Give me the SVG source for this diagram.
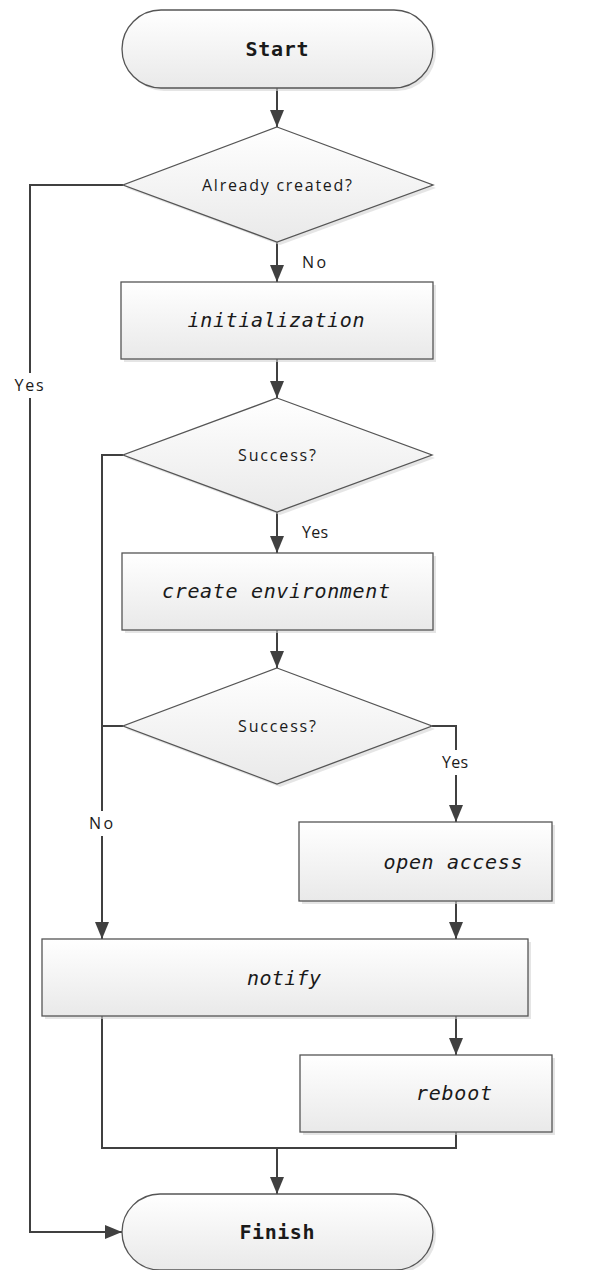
<svg xmlns="http://www.w3.org/2000/svg" width="599" height="1270" viewBox="0 0 599 1270">
<style>
.shape{stroke:#555;stroke-width:1.3;fill:url(#g)}
.shadow{fill:#d4d4d4;opacity:0.6}
.mono{font-family:"DejaVu Sans Mono","Liberation Mono",monospace;font-size:20px;fill:#1a1a1a;text-anchor:middle}
.it{font-style:italic}
.bold{font-weight:bold}
.lbl{font-family:"Open Sans","Noto Sans","Liberation Sans",sans-serif;font-size:16px;fill:#1a1a1a}
.c{text-anchor:middle}
.conn{stroke:#404040;stroke-width:2;fill:none}
.arr{marker-end:url(#ah)}
</style>
<defs>
<linearGradient id="g" x1="0" y1="0" x2="0" y2="1">
<stop offset="0" stop-color="#ffffff"/>
<stop offset="1" stop-color="#e9e9e9"/>
</linearGradient>
<marker id="ah" viewBox="0 0 17 14" markerWidth="17" markerHeight="14" refX="17" refY="7" orient="auto" markerUnits="userSpaceOnUse">
<path d="M0,0 L17,7 L0,14 z" fill="#404040"/>
</marker>
</defs>

<g id="connectors">
<path class="conn arr" d="M277,88 V127"/>
<path class="conn arr" d="M123,185 H30 V1232 H122"/>
<path class="conn arr" d="M277,242 V282"/>
<path class="conn arr" d="M277,359 V398"/>
<path class="conn arr" d="M123,455 H102 V939"/>
<path class="conn arr" d="M277,512 V553"/>
<path class="conn arr" d="M277,630 V668"/>
<path class="conn" d="M123,726 H102"/>
<path class="conn arr" d="M432,726 H456 V822"/>
<path class="conn arr" d="M456,901 V939"/>
<path class="conn arr" d="M456,1016 V1055"/>
<path class="conn" d="M102,1016 V1148 H456 V1132"/>
<path class="conn arr" d="M277,1148 V1194"/>
<rect x="12" y="373" width="36" height="25" fill="#fff"/>
<text class="lbl c" x="29" y="391" textLength="29">Yes</text>
<text class="lbl" x="302" y="268" textLength="24">No</text>
<text class="lbl" x="302" y="538" textLength="26">Yes</text>
<rect x="440" y="750" width="32" height="25" fill="#fff"/>
<text class="lbl c" x="455" y="768" textLength="26">Yes</text>
<rect x="86" y="811" width="32" height="25" fill="#fff"/>
<text class="lbl c" x="101" y="829" textLength="24">No</text>
</g>

<g id="start">
<rect class="shadow" x="125" y="13" width="311" height="78" rx="39"/>
<rect class="shape" x="122" y="10" width="311" height="78" rx="39"/>
<text class="mono bold" x="277" y="56" textLength="63">Start</text>
</g>

<g id="already-created">
<polygon class="shadow" points="280,130 436,188 280,245 126,188"/>
<polygon class="shape" points="277,127 433,185 277,242 123,185"/>
<text class="lbl c" x="277" y="191" textLength="150">Already created?</text>
</g>

<g id="initialization">
<rect class="shadow" x="124" y="285" width="312" height="77"/>
<rect class="shape" x="121" y="282" width="312" height="77"/>
<text class="mono it" x="276" y="327" textLength="177">initialization</text>
</g>

<g id="success1">
<polygon class="shadow" points="280,401 435,458 280,515 126,458"/>
<polygon class="shape" points="277,398 432,455 277,512 123,455"/>
<text class="lbl c" x="277" y="461" textLength="78">Success?</text>
</g>

<g id="create-environment">
<rect class="shadow" x="125" y="556" width="311" height="77"/>
<rect class="shape" x="122" y="553" width="311" height="77"/>
<text class="mono it" x="276" y="598" textLength="228">create environment</text>
</g>

<g id="success2">
<polygon class="shadow" points="280,671 435,729 280,787 126,729"/>
<polygon class="shape" points="277,668 432,726 277,784 123,726"/>
<text class="lbl c" x="277" y="732" textLength="78">Success?</text>
</g>

<g id="open-access">
<rect class="shadow" x="302" y="825" width="253" height="79"/>
<rect class="shape" x="299" y="822" width="253" height="79"/>
<text class="mono it" x="453" y="869" textLength="139">open access</text>
</g>

<g id="notify">
<rect class="shadow" x="45" y="942" width="486" height="77"/>
<rect class="shape" x="42" y="939" width="486" height="77"/>
<text class="mono it" x="284" y="985" textLength="74">notify</text>
</g>

<g id="reboot">
<rect class="shadow" x="303" y="1058" width="252" height="77"/>
<rect class="shape" x="300" y="1055" width="252" height="77"/>
<text class="mono it" x="454" y="1100" textLength="76">reboot</text>
</g>

<g id="finish">
<rect class="shadow" x="125" y="1197" width="311" height="76" rx="38"/>
<rect class="shape" x="122" y="1194" width="311" height="76" rx="38"/>
<text class="mono bold" x="277" y="1239" textLength="75">Finish</text>
</g>
</svg>
